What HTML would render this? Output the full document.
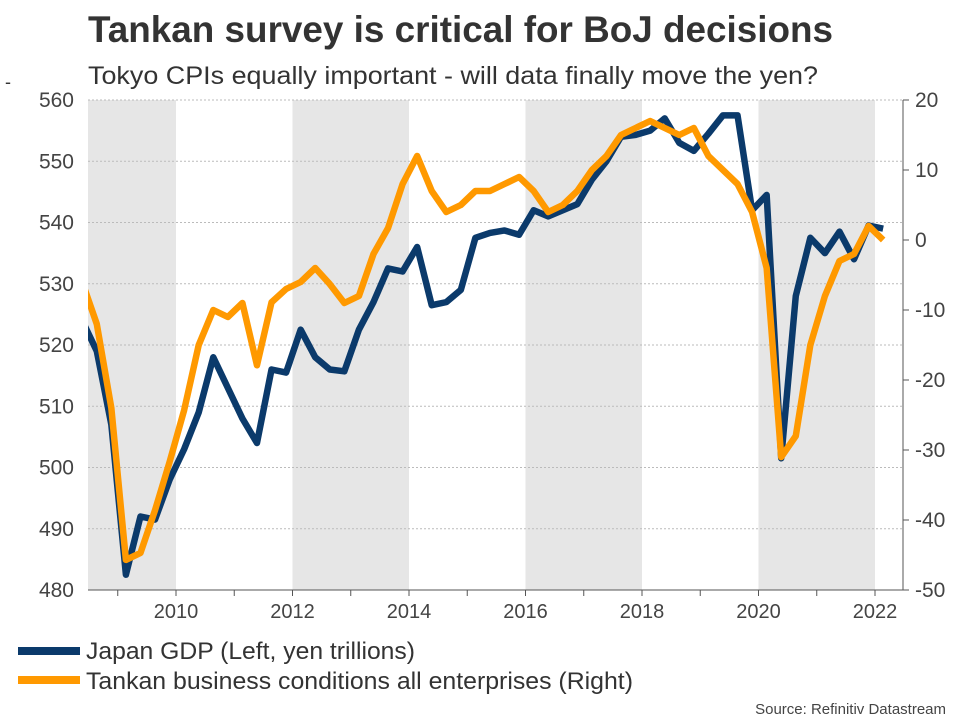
<!DOCTYPE html>
<html><head><meta charset="utf-8"><style>
body{margin:0;background:#fff;width:960px;height:720px;overflow:hidden;font-family:"Liberation Sans",Arial,sans-serif}
</style></head><body>
<svg width="960" height="720" xmlns="http://www.w3.org/2000/svg">
<text x="88" y="42" font-size="37" font-weight="bold" fill="#333" textLength="745" lengthAdjust="spacingAndGlyphs">Tankan survey is critical for BoJ decisions</text>
<text x="88" y="84" font-size="25" fill="#333" textLength="730" lengthAdjust="spacingAndGlyphs">Tokyo CPIs equally important - will data finally move the yen?</text>
<text x="5" y="88" font-size="18" fill="#333">-</text>
<g id="bands"></g><g id="grid"></g><g id="axes"></g>
<defs><clipPath id="pc"><rect x="88" y="95" width="815" height="500"/></clipPath></defs>
<g id="lines" clip-path="url(#pc)"></g>
<line x1="18" y1="651" x2="80" y2="651" stroke="#0b3a6b" stroke-width="8"/>
<text x="86" y="659" font-size="24" fill="#333" textLength="329" lengthAdjust="spacingAndGlyphs">Japan GDP (Left, yen trillions)</text>
<line x1="18" y1="680" x2="80" y2="680" stroke="#ff9900" stroke-width="8"/>
<text x="86" y="689" font-size="24" fill="#333" textLength="547" lengthAdjust="spacingAndGlyphs">Tankan business conditions all enterprises (Right)</text>
<text x="946" y="714" font-size="15" fill="#444" text-anchor="end">Source: Refinitiv Datastream</text>
</svg>
<script>
const leftTicks=[480,490,500,510,520,530,540,550,560];
const rightTicks=[-50,-40,-30,-20,-10,0,10,20];
const yearTicks=[2010,2012,2014,2016,2018,2020,2022];
const bandRanges=[[2008.4,2010],[2012,2014],[2016,2018],[2020,2022]];
const gdpStart=2008.39;
const gdp=[524,519,507,482.5,492,491.5,498,503,509,518,513,508,504,516,515.5,522.5,518,516,515.7,522.5,527,532.5,532,536,526.5,527,529,537.5,538.3,538.7,538,542,541,542,543,547,550,554,554.3,555,557,553,551.7,554.5,557.5,557.5,542,544.5,501.5,528,537.5,535,538.5,534,539.5,539];
const tankanStart=2008.39;
const tankan=[-6,-12,-24,-45.7,-44.7,-38.6,-31.7,-24.3,-15,-10,-11,-9,-17.9,-8.9,-7,-6,-4,-6.3,-9,-8,-2,1.7,8,12,7,4,5,7,7,8,9,7,4,5,7,10,12,15,16,17,16,15,16,12,10,8,4,-4,-31,-28,-15,-8,-3,-2,2,0];
const NS='http://www.w3.org/2000/svg';
const X=t=>176+(t-2010)*58.25;
const YL=v=>100+(560-v)*6.125;
const YR=v=>100+(20-v)*7;
function mk(tag,attrs,parent,txt){const e=document.createElementNS(NS,tag);for(const k in attrs)e.setAttribute(k,attrs[k]);if(txt!=null)e.textContent=txt;document.getElementById(parent).appendChild(e);return e;}
bandRanges.forEach(b=>{const x1=Math.max(88,X(b[0]));const e=mk('rect',{x:x1,y:100,width:X(b[1])-x1,height:490,fill:'#e6e6e6'},'bands');

});
leftTicks.forEach(v=>{const g=mk('line',{x1:88,x2:903,y1:YL(v),y2:YL(v),stroke:'#bbb','stroke-dasharray':'2,2','stroke-width':1},'grid');


const t=mk('text',{x:74,y:YL(v)+7,'font-size':21,fill:'#444','text-anchor':'end'},'axes',v);

});
mk('line',{x1:903,x2:903,y1:100,y2:590,stroke:'#555'},'axes');
rightTicks.forEach(v=>{mk('line',{x1:903,x2:909,y1:YR(v),y2:YR(v),stroke:'#555'},'axes');
const t=mk('text',{x:915,y:YR(v)+7,'font-size':21,fill:'#444'},'axes',v);

});
for(let y=2009;y<=2022;y++){mk('line',{x1:X(y),x2:X(y),y1:590,y2:596,stroke:'#555'},'axes');}
yearTicks.forEach(y=>{const t=mk('text',{x:X(y),y:618,'font-size':20,fill:'#444','text-anchor':'middle'},'axes',y);

});
mk('line',{x1:88,x2:903,y1:590,y2:590,stroke:'#555'},'axes');
const gp=mk('polyline',{points:gdp.map((v,i)=>X(gdpStart+i*0.25)+','+YL(v)).join(' '),fill:'none',stroke:'#0b3a6b','stroke-width':6.5,'stroke-linejoin':'round'},'lines');


const tp=mk('polyline',{points:tankan.map((v,i)=>X(tankanStart+i*0.25)+','+YR(v)).join(' '),fill:'none',stroke:'#ff9900','stroke-width':6.5,'stroke-linejoin':'round'},'lines');


</script>
</body></html>
